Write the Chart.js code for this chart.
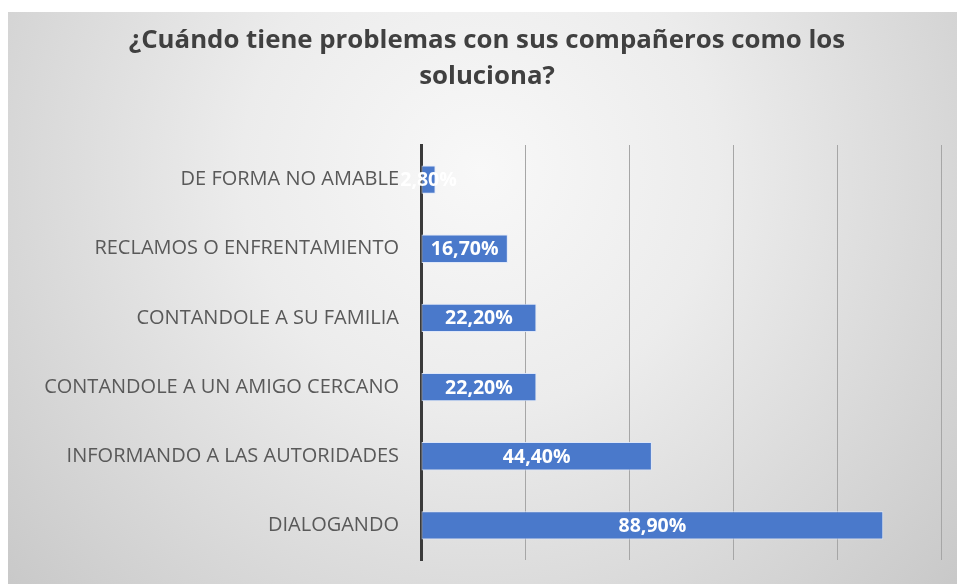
<!DOCTYPE html>
<html>
<head>
<meta charset="utf-8">
<script src="https://cdn.jsdelivr.net/npm/chart.js@4.4.1/dist/chart.umd.min.js"></script>
<style>
  html, body { margin: 0; padding: 0; background: #ffffff; }
  #wrap { width: 957px; height: 584px; position: relative; }
</style>
</head>
<body>
<div id="wrap"><canvas id="c" width="957" height="584"></canvas></div>
<script>
const titleLines = ['¿Cuándo tiene problemas con sus compañeros como los', 'soluciona?'];
const categories = [
  'DE FORMA NO AMABLE',
  'RECLAMOS O ENFRENTAMIENTO',
  'CONTANDOLE A SU FAMILIA',
  'CONTANDOLE A UN AMIGO CERCANO',
  'INFORMANDO A LAS AUTORIDADES',
  'DIALOGANDO'
];
const values = [2.8, 16.7, 22.2, 22.2, 44.4, 88.9];
const axisMin = 0;
const axisMax = 100;
const axisStep = 20;

function fmt(v) { return v.toFixed(2).replace('.', ',') + '%'; }

const bgPlugin = {
  id: 'bg',
  beforeDraw(chart) {
    const ctx = chart.ctx;
    ctx.save();
    ctx.fillStyle = '#ffffff';
    ctx.fillRect(0, 0, chart.width, chart.height);
    const g = ctx.createRadialGradient(480, 170, 0, 480, 170, 680);
    g.addColorStop(0, '#f8f8f8');
    g.addColorStop(0.35, '#ececec');
    g.addColorStop(1, '#c4c4c4');
    ctx.fillStyle = g;
    ctx.fillRect(8, 12, chart.width - 8, chart.height - 12);
    ctx.restore();
  }
};

const titlePlugin = {
  id: 'customTitle',
  afterDraw(chart) {
    const ctx = chart.ctx;
    ctx.save();
    ctx.fillStyle = '#404040';
    ctx.font = 'bold 25.8px "Open Sans"';
    ctx.textAlign = 'center';
    ctx.textBaseline = 'middle';
    ctx.fillText(titleLines[0], 487, 41);
    ctx.fillText(titleLines[1], 487, 77);
    ctx.restore();
  }
};

const labelPlugin = {
  id: 'barLabels',
  afterDatasetsDraw(chart) {
    const ctx = chart.ctx;
    const meta = chart.getDatasetMeta(0);
    ctx.save();
    ctx.fillStyle = '#ffffff';
    ctx.font = 'bold 19.5px "Open Sans"';
    ctx.textAlign = 'center';
    ctx.textBaseline = 'middle';
    meta.data.forEach((bar, i) => {
      const cx = (bar.x + bar.base) / 2;
      ctx.fillText(fmt(values[i]), cx, bar.y + 1);
    });
    ctx.restore();
  }
};

new Chart(document.getElementById('c'), {
  type: 'bar',
  data: {
    labels: categories,
    datasets: [{
      data: values,
      backgroundColor: '#4a79cb',
      borderColor: 'rgba(220,230,250,0.9)',
      borderWidth: 1,
      borderSkipped: false,
      barPercentage: 0.41,
      categoryPercentage: 1.0
    }]
  },
  options: {
    indexAxis: 'y',
    responsive: false,
    animation: false,
    devicePixelRatio: 1,
    layout: { padding: { left: 8, top: 145, right: 16, bottom: 24 } },
    plugins: {
      legend: { display: false },
      tooltip: { enabled: false },
      title: { display: false }
    },
    scales: {
      x: {
        min: axisMin,
        max: axisMax,
        afterFit(scale) { scale.height = 0; scale.paddingLeft = 0; scale.paddingRight = 0; },
        ticks: { display: false, stepSize: axisStep },
        grid: { color: '#a6a6a6', lineWidth: 1, drawTicks: false },
        border: { display: false }
      },
      y: {
        afterFit(scale) { scale.width = 421 - 8; scale.paddingTop = 0; scale.paddingBottom = 0; },
        ticks: {
          color: '#595959',
          font: { family: '"Open Sans"', size: 20 },
          padding: 22
        },
        grid: { display: false, drawTicks: false },
        border: { display: true, color: '#3a3a3a', width: 3 }
      }
    }
  },
  plugins: [bgPlugin, titlePlugin, labelPlugin]
});
</script>
</body>
</html>
